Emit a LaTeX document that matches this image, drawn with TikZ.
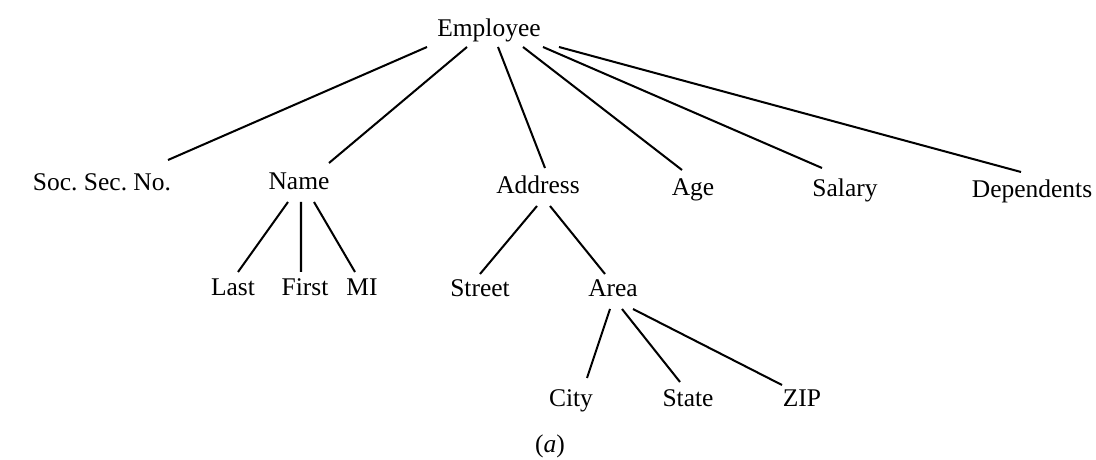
\documentclass[tikz,border=0pt]{standalone}
\usepackage{fontspec}
\setmainfont{Liberation Serif}
\usepackage{tikz}

\begin{document}
\begin{tikzpicture}[
	lbl/.style={anchor=base, inner sep=0pt, font=\fontsize{14.5}{17}\selectfont},
	edge/.style={line width=1.15pt}]
			%%%%% START %%%%%
			
			\useasboundingbox (0, 0) rectangle (21.92, 9.18);
			
			\node[lbl] (emp) at (9.78, 8.44) {Employee};
			
			\node[lbl] (soc) at (2.04, 5.36) {Soc.\ Sec.\ No.};
			\node[lbl] (name) at (5.98, 5.38) {Name};
			\node[lbl] (addr) at (10.76, 5.30) {Address};
			\node[lbl] (age) at (13.86, 5.26) {Age};
			\node[lbl] (sal) at (16.90, 5.24) {Salary};
			\node[lbl] (dep) at (20.64, 5.22) {Dependents};
			
			\node[lbl] (last) at (4.66, 3.28) {Last};
			\node[lbl] (first) at (6.10, 3.28) {First};
			\node[lbl] (mi) at (7.24, 3.28) {MI};
			\node[lbl] (street) at (9.60, 3.24) {Street};
			\node[lbl] (area) at (12.26, 3.24) {Area};
			
			\node[lbl] (city) at (11.42, 1.06) {City};
			\node[lbl] (state) at (13.76, 1.06) {State};
			\node[lbl] (zip) at (16.04, 1.06) {ZIP};
			
			\node[lbl] (cap) at (11.0, 0.14) {(\textit{a})};
			
			\draw[edge] ([shift={(-1.24,-0.2)}]emp.base) -- ([shift={(1.32,0.62)}]soc.base);
			\draw[edge] ([shift={(-0.44,-0.2)}]emp.base) -- ([shift={(0.6,0.54)}]name.base);
			\draw[edge] ([shift={(0.18,-0.2)}]emp.base) -- ([shift={(0.14,0.52)}]addr.base);
			\draw[edge] ([shift={(0.68,-0.2)}]emp.base) -- ([shift={(-0.22,0.52)}]age.base);
			\draw[edge] ([shift={(1.08,-0.2)}]emp.base) -- ([shift={(-0.46,0.58)}]sal.base);
			\draw[edge] ([shift={(1.40,-0.2)}]emp.base) -- ([shift={(-0.22,0.52)}]dep.base);
			
			\draw[edge] ([shift={(-0.22,-0.24)}]name.base) -- ([shift={(0.1,0.46)}]last.base);
			\draw[edge] ([shift={(0.04,-0.24)}]name.base) -- ([shift={(-0.08,0.46)}]first.base);
			\draw[edge] ([shift={(0.3,-0.24)}]name.base) -- ([shift={(-0.14,0.46)}]mi.base);
			
			\draw[edge] ([shift={(-0.02,-0.24)}]addr.base) -- ([shift={(0,0.46)}]street.base);
			\draw[edge] ([shift={(0.24,-0.24)}]addr.base) -- ([shift={(-0.16,0.46)}]area.base);
			
			\draw[edge] ([shift={(-0.06,-0.24)}]area.base) -- ([shift={(0.32,0.56)}]city.base);
			\draw[edge] ([shift={(0.18,-0.24)}]area.base) -- ([shift={(-0.16,0.48)}]state.base);
			\draw[edge] ([shift={(0.4,-0.24)}]area.base) -- ([shift={(-0.4,0.42)}]zip.base);
			
			%%%%% END %%%%%
		\end{tikzpicture}
\end{document}
